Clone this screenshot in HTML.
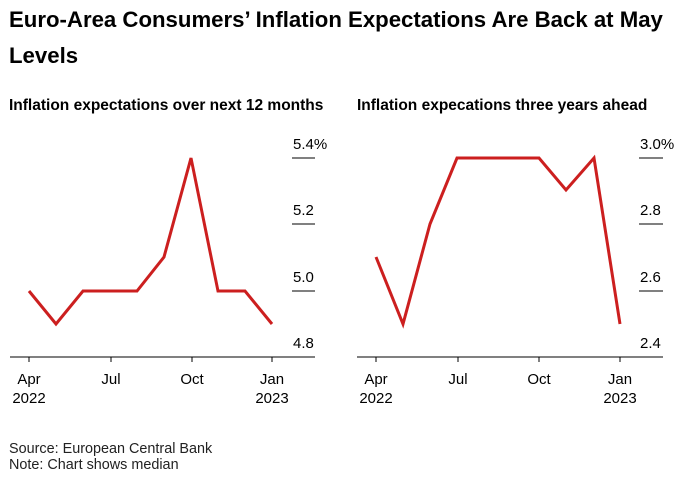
<!DOCTYPE html>
<html><head><style>
body{margin:0;background:#fff;width:682px;height:476px;overflow:hidden;font-family:"Liberation Sans",sans-serif;}
</style></head><body>
<svg width="682" height="476" xmlns="http://www.w3.org/2000/svg" font-family="Liberation Sans, sans-serif">
<text x="9" y="27" font-size="22.2" font-weight="bold" fill="#000">Euro-Area Consumers’ Inflation Expectations Are Back at May</text>
<text x="9" y="63" font-size="22.2" font-weight="bold" fill="#000">Levels</text>
<text x="9" y="110" font-size="15.5" font-weight="bold">Inflation expectations over next 12 months</text>
<text x="357" y="110" font-size="15.5" font-weight="bold">Inflation expecations three years ahead</text>
<g font-size="15" fill="#000">
<text x="293" y="149">5.4%</text><text x="293" y="215">5.2</text><text x="293" y="282">5.0</text><text x="293" y="348">4.8</text>
<text x="640" y="149">3.0%</text><text x="640" y="215">2.8</text><text x="640" y="282">2.6</text><text x="640" y="348">2.4</text>
</g>
<g stroke="#000" stroke-width="1">
<line x1="292" y1="158" x2="315" y2="158"/><line x1="292" y1="224" x2="315" y2="224"/><line x1="292" y1="291" x2="315" y2="291"/>
<line x1="10" y1="357" x2="315" y2="357"/>
<line x1="639" y1="158" x2="663" y2="158"/><line x1="639" y1="224" x2="663" y2="224"/><line x1="639" y1="291" x2="663" y2="291"/>
<line x1="357" y1="357" x2="663" y2="357"/>
<line x1="29" y1="357" x2="29" y2="362"/><line x1="111" y1="357" x2="111" y2="362"/><line x1="192" y1="357" x2="192" y2="362"/><line x1="272" y1="357" x2="272" y2="362"/>
<line x1="376" y1="357" x2="376" y2="362"/><line x1="458" y1="357" x2="458" y2="362"/><line x1="539" y1="357" x2="539" y2="362"/><line x1="620" y1="357" x2="620" y2="362"/>
</g>
<g font-size="15" text-anchor="middle">
<text x="29" y="384">Apr</text><text x="29" y="403">2022</text>
<text x="111" y="384">Jul</text><text x="192" y="384">Oct</text>
<text x="272" y="384">Jan</text><text x="272" y="403">2023</text>
<text x="376" y="384">Apr</text><text x="376" y="403">2022</text>
<text x="458" y="384">Jul</text><text x="539" y="384">Oct</text>
<text x="620" y="384">Jan</text><text x="620" y="403">2023</text>
</g>
<g fill="none" stroke="#cc1f1f" stroke-width="3" stroke-linejoin="miter">
<polyline points="29,291 56,324 83,291 110,291 137,291 164,257 191,158 218,291 245,291 272,324"/>
<polyline points="376,257 403,324 430,224 457,158 484,158 511,158 539,158 566,190 594,158 620,324"/>
</g>
<text x="9" y="453" font-size="14.4" fill="#222">Source: European Central Bank</text>
<text x="9" y="469" font-size="14.4" fill="#222">Note: Chart shows median</text>
</svg>
</body></html>
